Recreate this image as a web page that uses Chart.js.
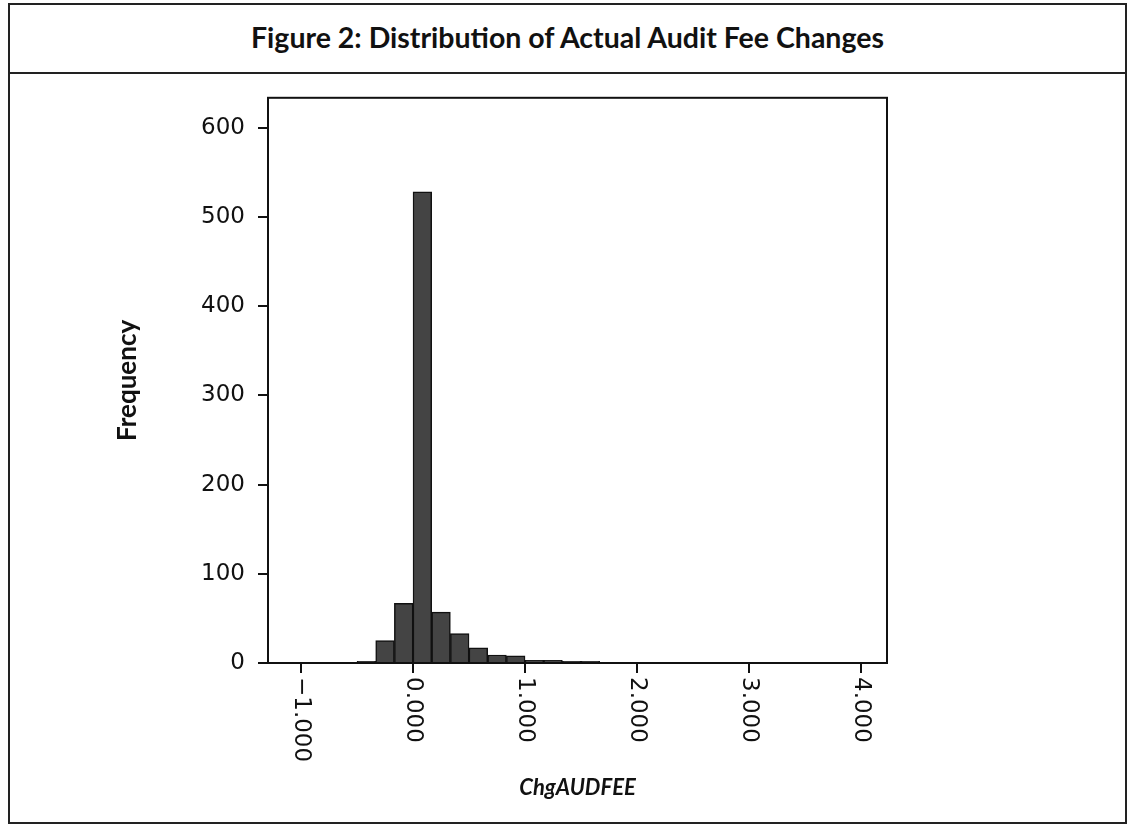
<!DOCTYPE html>
<html>
<head>
<meta charset="utf-8">
<script src="https://cdn.jsdelivr.net/npm/chart.js@4.4.0/dist/chart.umd.min.js"></script>
<style>
  body { margin: 0; background: #fff; }
  .frame { position: absolute; left: 8px; top: 3px; width: 1115px; height: 817px; border: 2px solid #222; }
  .head { position: absolute; left: 0; top: 0; width: 100%; height: 67px; border-bottom: 2px solid #222;
          font-family: Lato, "Open Sans", sans-serif; font-weight: bold; font-size: 28.5px; color: #111;
          text-align: center; line-height: 64px; }
  .plot { position: absolute; left: 0; top: 71px; width: 1127px; height: 756px; }
</style>
</head>
<body>
<div class="frame"><div class="head">Figure 2: Distribution of Actual Audit Fee Changes</div></div>
<div class="plot"><canvas id="canvas"></canvas></div>
<script>
// histogram bins: width 1/6, first bin starts at -1
var binStart = -1;
var binWidth = 1 / 6;
var frequency = [0, 1, 1, 2, 25, 67, 528, 57, 33, 17, 9, 8, 3, 3, 2, 2, 1, 1,
                 0, 0, 0, 0, 1, 0, 1, 0, 0, 0, 0, 1];
var xTickValues = [-1, 0, 1, 2, 3, 4];
var xTickLabels = ['\u22121.000', '0.000', '1.000', '2.000', '3.000', '4.000'];
var yTickValues = [0, 100, 200, 300, 400, 500, 600];

var points = frequency.map(function (f, i) {
    return { x: binStart + (i + 0.5) * binWidth, y: f };
});

// draws the box round the plot and the x labels turned clockwise
var framePlugin = {
    id: 'frame',
    afterDraw: function (chart) {
        var ctx = chart.ctx;
        var a = chart.chartArea;
        ctx.save();
        ctx.strokeStyle = '#111';
        ctx.lineWidth = 2;
        ctx.strokeRect(a.left, a.top, a.right - a.left, a.bottom - a.top);
        var sx = chart.scales.x;
        ctx.fillStyle = '#111';
        ctx.font = '23px "DejaVu Sans"';
        ctx.textAlign = 'left';
        ctx.textBaseline = 'middle';
        xTickValues.forEach(function (v, i) {
            ctx.save();
            ctx.translate(sx.getPixelForValue(v), sx.top + 14);
            ctx.rotate(Math.PI / 2);
            ctx.fillText(xTickLabels[i], 0, 0);
            ctx.restore();
        });
        ctx.restore();
    }
};

var config = {
    type: 'bar',
    data: {
        datasets: [{
            label: 'Frequency',
            data: points,
            backgroundColor: '#444444',
            borderColor: '#111',
            borderWidth: 1.5,
            barPercentage: 1,
            categoryPercentage: 1
        }]
    },
    options: {
        responsive: true,
        maintainAspectRatio: false,
        animation: false,
        layout: { padding: { left: 110, right: 240, top: 17, bottom: 0 } },
        plugins: { legend: { display: false }, tooltip: { enabled: false } },
        scales: {
            x: {
                type: 'linear',
                min: -1.295,
                max: 4.232,
                offset: false,
                afterBuildTicks: function (s) { s.ticks = xTickValues.map(function (v) { return { value: v }; }); },
                afterFit: function (s) { s.height = 164; },
                ticks: { display: false },
                grid: { offset: false, drawOnChartArea: false, drawTicks: true, tickLength: 10, color: '#111', lineWidth: 2 },
                border: { display: true, color: '#111', width: 2 },
                title: {
                    display: true,
                    text: 'ChgAUDFEE',
                    color: '#111',
                    font: { family: 'Lato', size: 22, weight: 'bold', style: 'italic' },
                    padding: { top: 0, bottom: 26 }
                }
            },
            y: {
                min: 0,
                max: 633.5,
                afterBuildTicks: function (s) { s.ticks = yTickValues.map(function (v) { return { value: v }; }); },
                afterFit: function (s) { s.width = 158; },
                ticks: { color: '#111', padding: 13, font: { family: 'DejaVu Sans', size: 23 } },
                grid: { drawOnChartArea: false, drawTicks: true, tickLength: 10, color: '#111', lineWidth: 2 },
                border: { display: true, color: '#111', width: 2 },
                title: {
                    display: true,
                    text: 'Frequency',
                    color: '#111',
                    font: { family: 'Lato', size: 26, weight: 'bold' },
                    padding: { top: 2, bottom: 0 }
                }
            }
        }
    },
    plugins: [framePlugin]
};

var histChart = new Chart(document.getElementById('canvas'), config);
</script>
</body>
</html>
